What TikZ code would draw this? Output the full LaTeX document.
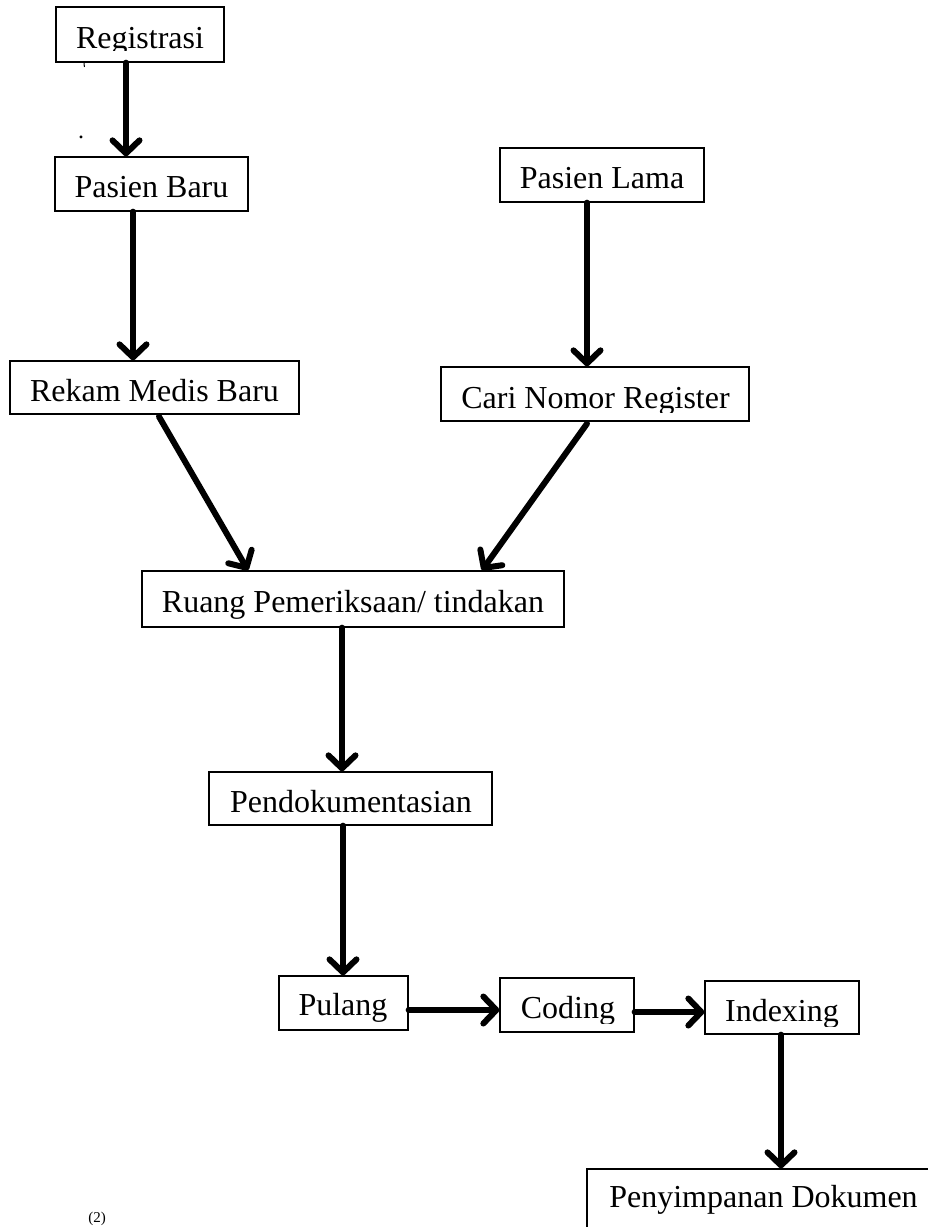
\documentclass[tikz,border=0pt]{standalone}
\usepackage{fontspec}
\setmainfont{Liberation Serif}
\usetikzlibrary{arrows.meta}
\begin{document}
\begin{tikzpicture}[x=1pt,y=-1pt,
  box/.style={draw, line width=1.3pt, inner sep=0pt},
  lbl/.style={anchor=base, inner sep=0pt, font=\fontsize{32}{38}\selectfont},
  flow/.style={line width=6pt, line cap=round, -{Straight Barb[length=13pt,width=27pt,line width=6pt,round]}}]
\useasboundingbox (0,0) rectangle (928,1227);
% boxes
\node[box, minimum width=168pt, minimum height=55pt] (reg) at (140,34.5) {};
\node[box, minimum width=193pt, minimum height=54pt] (pb) at (151.5,184) {};
\node[box, minimum width=204pt, minimum height=54pt] (pl) at (602,175) {};
\node[box, minimum width=289pt, minimum height=53pt] (rmb) at (154.5,387.5) {};
\node[box, minimum width=308pt, minimum height=54pt] (cnr) at (595,394) {};
\node[box, minimum width=422pt, minimum height=56pt] (rp) at (353,599) {};
\node[box, minimum width=283pt, minimum height=53pt] (pd) at (350.5,798.5) {};
\node[box, minimum width=129pt, minimum height=54pt] (pu) at (343.5,1003) {};
\node[box, minimum width=134pt, minimum height=54pt] (co) at (567,1005) {};
\node[box, minimum width=154pt, minimum height=53pt] (ix) at (782,1007.5) {};
\node[box, minimum width=358pt, minimum height=76pt] (ps) at (766,1207) {};
% labels
\begin{scope}\clip (0,0) rectangle (928,50.5);
\node[lbl] (regt) at (140,48) {Registrasi};\end{scope}
\node[lbl] (pbt) at (151.5,197) {Pasien Baru};
\node[lbl] (plt) at (602,188) {Pasien Lama};
\node[lbl] (rmbt) at (154.5,401) {Rekam Medis Baru};
\begin{scope}\clip (0,300) rectangle (928,412.5);
\node[lbl] (cnrt) at (595.5,408) {Cari Nomor Register};\end{scope}
\node[lbl] (rpt) at (353,612) {Ruang Pemeriksaan/ tindakan};
\node[lbl] (pdt) at (351,812) {Pendokumentasian};
\begin{scope}\clip (0,900) rectangle (928,1023);
\node[lbl] (put) at (343,1015) {Pulang};
\node[lbl] (cot) at (568,1018) {Coding};\end{scope}
\begin{scope}\clip (0,900) rectangle (928,1026);
\node[lbl] (ixt) at (782,1021) {Indexing};\end{scope}
\node[lbl] (pst) at (763.5,1207) {Penyimpanan Dokumen};
% small marks
\draw[line width=1pt] (84,63) -- (84.4,67);
\node[anchor=base, inner sep=0pt, font=\fontsize{24}{28}\selectfont] (dot) at (81,138) {.};
\node[anchor=base, inner sep=0pt, font=\fontsize{15}{17}\selectfont] (note) at (97,1222) {(2)};
% arrows
\draw[flow] ([xshift=-14pt]reg.south) -- ([xshift=-25.5pt]pb.north);
\draw[flow] ([xshift=-18.5pt]pb.south) -- ([xshift=-21.5pt]rmb.north);
\draw[flow] ([xshift=-15pt]pl.south) -- ([xshift=-8pt]cnr.north);
\draw[flow] ([xshift=4.5pt,yshift=-2pt]rmb.south) -- ([xshift=-105pt]rp.north);
\draw[flow] ([xshift=-8pt,yshift=-2pt]cnr.south) -- ([xshift=129pt]rp.north);
\draw[flow] ([xshift=-11pt]rp.south) -- ([xshift=-8.5pt]pd.north);
\draw[flow] ([xshift=-7.5pt]pd.south) -- ([xshift=-0.5pt]pu.north);
\draw[flow] ([yshift=-7pt]pu.east) -- ([yshift=-5pt]co.west);
\draw[flow] ([yshift=-7pt]co.east) -- ([yshift=-4.5pt]ix.west);
\draw[flow] ([xshift=-1pt]ix.south) -- ([xshift=15pt]ps.north);
\end{tikzpicture}
\end{document}
